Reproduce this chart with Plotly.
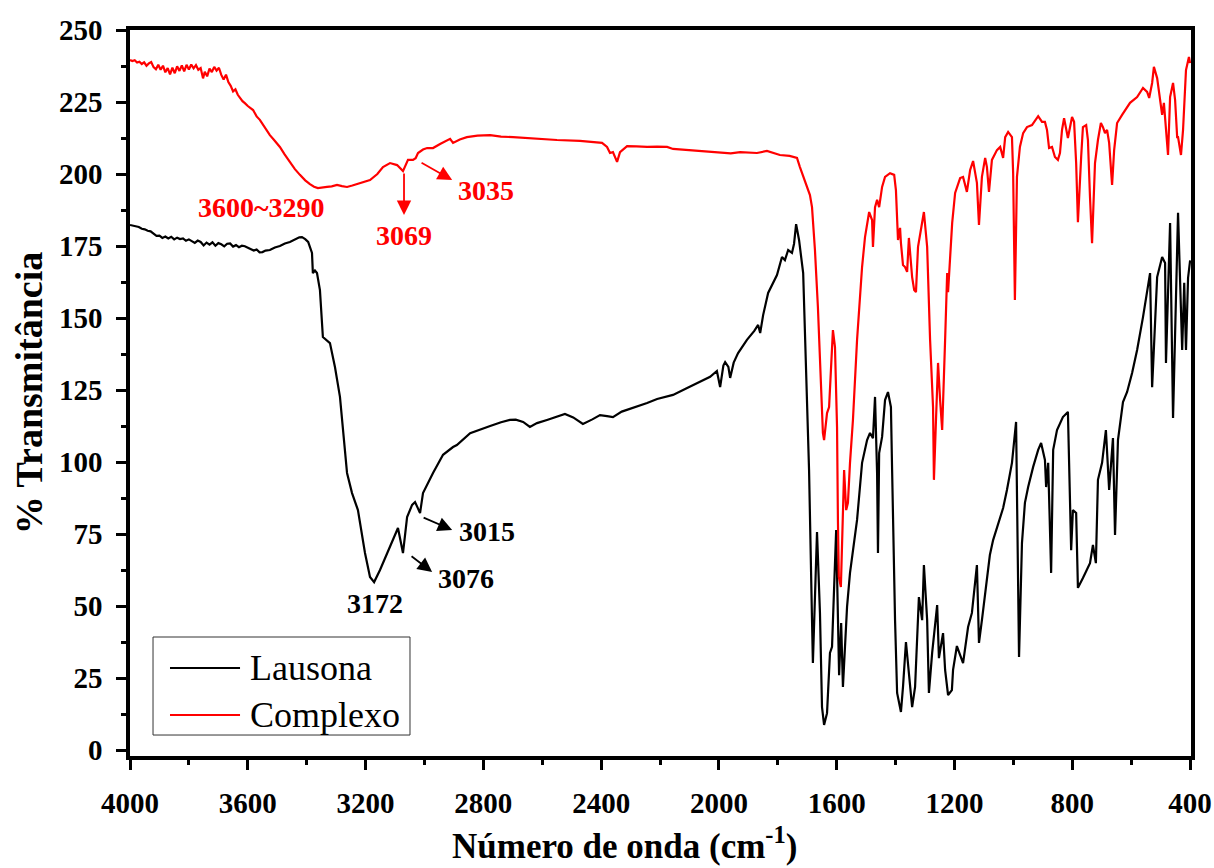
import plotly.graph_objects as go

# ---------------- data ----------------
lausona_wn = [4000, 3990, 3980, 3970, 3960, 3950, 3940, 3930, 3920, 3910, 3900, 3890, 3880, 3870, 3860, 3850,
              3840, 3830, 3820, 3810, 3800, 3790, 3780, 3770, 3760, 3750, 3740, 3730, 3720, 3710, 3700, 3690,
              3680, 3670, 3660, 3650, 3640, 3630, 3620, 3610, 3600, 3590, 3580, 3570, 3560, 3550, 3540, 3525,
              3508, 3491, 3474, 3457, 3440,
              3425, 3416, 3405, 3395, 3382, 3379, 3372, 3365, 3355, 3345, 3338, 3331, 3321, 3304, 3287, 3263,
              3246, 3226, 3202, 3185, 3171, 3151, 3117, 3090, 3073, 3059, 3042, 3032, 3015, 3005, 2971, 2937,
              2903, 2890, 2845, 2800, 2777, 2740, 2710, 2690, 2676, 2665, 2642, 2618, 2584, 2550, 2523, 2495,
              2462, 2430, 2404, 2380, 2360, 2330, 2292, 2244, 2210, 2156, 2108, 2064, 2030, 2007, 1996, 1985,
              1979, 1968, 1962, 1950, 1935, 1905, 1880, 1867, 1860, 1850, 1833, 1803, 1786, 1776, 1765, 1752,
              1745, 1738, 1728, 1714, 1701, 1694, 1684, 1681, 1667, 1657, 1650, 1643, 1633, 1623, 1616, 1609,
              1602, 1592, 1585, 1579, 1565, 1555, 1531, 1514, 1497, 1487, 1477, 1470, 1463, 1460, 1456, 1446,
              1436, 1426, 1416, 1412, 1409, 1402, 1395, 1382, 1375, 1365, 1355, 1344, 1334, 1321, 1310, 1304,
              1293, 1287, 1276, 1259, 1253, 1239, 1232, 1222, 1209, 1205, 1192, 1171, 1154, 1141, 1124, 1117,
              1107, 1090, 1080, 1069, 1045, 1035, 1022, 1005, 991, 984, 981, 971, 961, 950, 933, 916,
              906, 893, 889, 882, 872, 865, 852, 832, 815, 804, 798, 787, 781, 764, 740, 730,
              720, 713, 699, 686, 675, 662, 655, 645, 628, 614, 597, 580, 560, 536, 529, 512,
              495, 485, 482, 468, 458, 441, 427, 420, 414, 407, 400]
lausona_t = [182.3, 182.0, 181.7, 181.6, 181.0, 180.8, 180.3, 180.1, 179.3, 178.5, 178.6, 177.8, 178.3, 177.6, 178.2, 177.3,
             177.9, 177.4, 177.6, 176.8, 177.3, 176.6, 176.1, 176.9, 176.4, 175.2, 176.2, 175.5, 176.3, 175.1, 176.0, 175.6,
             174.9, 175.8, 175.9, 174.8, 175.3, 174.6, 175.1, 174.9, 174.4, 174.1, 173.4, 173.8, 172.8, 172.9, 173.4, 173.6,
             174.5, 175.0, 175.9, 176.4, 177.2,
             178.0, 178.1, 177.4, 176.4, 172.6, 165.6, 166.5, 165.6, 159.7, 143.4, 142.8, 142.4, 141.3, 133.0, 122.6, 96.2,
             89.2, 83.3, 68.4, 60.1, 58.3, 62.5, 70.5, 77.1, 68.4, 80.9, 85.1, 86.1, 82.3, 89.2, 96.2, 102.5,
             105.2, 105.9, 110.0, 111.8, 112.5, 113.8, 114.6, 114.7, 114.4, 113.9, 112.2, 113.5, 114.6, 115.7, 116.7, 115.5,
             113.2, 114.8, 116.3, 115.9, 115.6, 117.5, 118.8, 120.5, 121.9, 123.3, 125.7, 127.8, 129.6, 131.6, 126.0, 133.5,
             134.7, 133.0, 129.2, 134.5, 137.8, 142.4, 145.5, 147.6, 144.8, 151.0, 158.7, 164.9, 171.2, 170.1, 173.6, 172.6,
             175.8, 182.6, 177.1, 165.6, 125.0, 97.2, 45.1, 30.2, 75.7, 47.6, 14.9, 8.7, 12.8, 33.7, 35.8, 56.6,
             76.4, 26.0, 44.1, 21.9, 49.7, 61.5, 79.9, 99.7, 107.6, 110.1, 108.3, 122.6, 96.2, 68.4, 103.1, 108.7,
             121.5, 124.3, 119.1, 97.2, 79.9, 45.1, 19.8, 13.2, 21.9, 37.5, 26.7, 14.9, 21.9, 53.1, 45.1, 64.2,
             45.1, 19.8, 33.7, 50.3, 31.9, 40.6, 27.8, 19.1, 20.8, 27.8, 36.1, 30.2, 42.7, 47.6, 64.2, 37.2,
             45.1, 59.0, 67.7, 72.9, 80.9, 84.0, 90.3, 99.7, 113.9, 64.9, 32.3, 71.9, 85.8, 91.3, 98.3, 104.2,
             106.6, 100.7, 91.3, 99.7, 61.5, 104.2, 111.1, 115.6, 117.4, 69.4, 83.3, 82.3, 56.3, 59.7, 64.9, 71.2,
             64.9, 93.8, 99.7, 111.1, 90.3, 108.3, 74.7, 107.6, 120.8, 124.3, 130.9, 138.9, 150.3, 165.6, 126.0, 164.2,
             171.2, 169.1, 134.4, 183.0, 115.3, 186.5, 138.9, 162.2, 138.9, 163.9, 170.0]

complexo_wn = [4000, 3992, 3984, 3976, 3968, 3960, 3952, 3944, 3936, 3928, 3920, 3912, 3904, 3896, 3888, 3880,
               3872, 3864, 3856, 3848, 3840, 3832, 3824, 3816, 3808, 3800, 3792, 3784, 3776, 3768, 3760, 3752,
               3746, 3738, 3730, 3722, 3714, 3706, 3698, 3690, 3682, 3674, 3666, 3658, 3650, 3642, 3634, 3626,
               3618, 3610, 3600, 3582, 3570, 3559, 3540, 3525, 3510, 3491, 3475, 3457, 3440,
               3423, 3405, 3389, 3375, 3362, 3345, 3331, 3315, 3297, 3280, 3263, 3245, 3229, 3205, 3185, 3160,
               3141, 3117, 3093, 3073, 3056, 3039, 3030, 3022, 3005, 2991, 2971, 2947, 2923, 2913, 2903, 2880,
               2856, 2820, 2777, 2740, 2699, 2660, 2618, 2550, 2472, 2430, 2397, 2380, 2370, 2360, 2346, 2336,
               2312, 2280, 2244, 2210, 2176, 2156, 2110, 2074, 2030, 1996, 1960, 1928, 1900, 1871, 1837, 1815,
               1793, 1760, 1735, 1725, 1708, 1691, 1684, 1674, 1664, 1653, 1647, 1643, 1633, 1626, 1613, 1606,
               1599, 1596, 1593, 1586, 1582, 1575, 1568, 1562, 1555, 1545, 1531, 1514, 1504, 1490, 1480, 1477,
               1470, 1463, 1456, 1446, 1436, 1419, 1405, 1399, 1392, 1385, 1382, 1375, 1368, 1361, 1355, 1344,
               1337, 1331, 1324, 1310, 1304, 1293, 1283, 1273, 1270, 1263, 1256, 1249, 1242, 1232, 1225, 1222,
               1208, 1198, 1181, 1171, 1158, 1147, 1137, 1124, 1117, 1107, 1096, 1090, 1083, 1073, 1056, 1045,
               1035, 1028, 1018, 1005, 1001, 995, 988, 978, 967, 954, 937, 916, 903, 893, 886, 879,
               869, 859, 849, 842, 835, 828, 818, 815, 801, 794, 787, 781, 770, 764, 753, 747,
               740, 733, 723, 713, 703, 696, 689, 682, 675, 669, 665, 658, 648, 631, 604, 580,
               560, 546, 539, 529, 523, 512, 502, 495, 489, 482, 475, 468, 458, 451, 444, 441,
               431, 424, 414, 404, 400]
complexo_t = [239.6, 239.2, 239.5, 238.7, 239.0, 238.2, 238.8, 237.6, 238.4, 238.9, 237.1, 236.4, 237.9, 236.2, 237.6, 235.3,
              236.8, 234.6, 236.9, 235.0, 237.4, 235.8, 237.7, 235.6, 237.9, 236.3, 238.0, 236.7, 237.8, 236.2, 236.8, 233.2,
              235.5, 233.9, 236.6, 235.4, 237.2, 235.9, 236.9, 234.4, 232.8, 234.5, 231.9, 230.6, 228.7, 229.4, 227.5, 226.2,
              225.3, 224.6, 223.6, 222.2, 220.0, 218.8, 215.6, 213.5, 211.7, 209.4, 206.8, 204.2, 201.7,
              199.7, 197.8, 196.5, 195.6, 195.1, 195.2, 195.5, 195.7, 196.2, 195.8, 195.5, 196.0, 196.5, 197.2, 197.9, 200.0,
              202.4, 203.8, 203.1, 201.0, 204.9, 204.9, 205.5, 207.3, 208.5, 209.0, 209.0, 210.4, 211.5, 212.2, 210.8, 212.0,
              212.8, 213.3, 213.5, 213.0, 212.8, 212.5, 212.2, 211.8, 211.5, 211.2, 210.8, 209.4, 207.3, 207.6, 204.2, 207.6,
              209.7, 209.6, 209.4, 209.5, 209.4, 208.7, 208.3, 208.0, 207.6, 207.3, 207.2, 207.6, 207.4, 207.3, 208.0, 207.2,
              206.6, 206.3, 205.6, 202.4, 197.9, 192.7, 188.5, 173.6, 153.8, 121.5, 110.1, 107.6, 117.0, 119.1, 145.8, 139.9,
              112.2, 79.9, 60.1, 56.6, 74.0, 97.2, 83.3, 85.8, 99.7, 114.6, 142.4, 167.7, 178.1, 186.8, 184.0, 174.7,
              188.5, 191.0, 188.5, 195.5, 199.0, 200.3, 199.7, 194.4, 177.1, 181.3, 176.0, 168.4, 167.7, 166.0, 177.8, 164.2,
              159.7, 159.0, 174.7, 183.0, 186.8, 174.7, 142.4, 119.1, 93.8, 114.6, 134.4, 121.5, 111.1, 142.4, 165.6, 159.0,
              183.0, 193.4, 198.6, 199.0, 193.8, 201.4, 204.5, 196.9, 182.3, 199.0, 205.6, 202.4, 193.8, 204.9, 208.3, 209.4,
              205.6, 212.8, 214.6, 212.8, 200.3, 156.3, 199.0, 209.4, 214.2, 216.3, 217.0, 220.1, 218.1, 218.1, 215.3, 209.0,
              209.4, 205.9, 204.9, 207.3, 215.3, 219.4, 212.8, 212.5, 219.8, 218.1, 203.8, 183.3, 205.9, 216.3, 217.0, 211.8,
              192.0, 176.0, 203.8, 211.8, 217.7, 216.3, 214.2, 215.3, 210.8, 203.8, 196.2, 208.3, 217.7, 220.5, 224.7, 226.7,
              229.9, 228.5, 226.4, 231.6, 237.2, 233.3, 226.7, 220.5, 224.7, 215.3, 206.6, 226.7, 231.6, 225.7, 212.8, 212.8,
              206.6, 215.3, 236.1, 240.6, 238.5]

series_names = ["Lausona", "Complexo"]
series_colors = ["#000000", "#FF0000"]

# peak labels
label_text = ["3600~3290", "3069", "3035", "3172", "3076", "3015"]
label_wn = [3552, 3070, 2791, 3168, 2859, 2788]
label_t = [188.5, 178.5, 194.4, 51.0, 59.4, 75.7]
label_color = [1, 1, 1, 0, 0, 0]

# arrows: tail (wn, t) -> head (wn, t)
arrow_tail_wn = [3069.5, 3015, 3049, 3008]
arrow_tail_t = [200.7, 204.2, 67.7, 80.9]
arrow_head_wn = [3069.5, 2906, 2974, 2906]
arrow_head_t = [185.8, 197.9, 61.8, 76.4]
arrow_color = [1, 1, 0, 0]

x_ticks = [4000, 3600, 3200, 2800, 2400, 2000, 1600, 1200, 800, 400]
x_minor = [3800, 3400, 3000, 2600, 2200, 1800, 1400, 1000, 600]
y_ticks = [0, 25, 50, 75, 100, 125, 150, 175, 200, 225, 250]
y_minor = [12.5, 37.5, 62.5, 87.5, 112.5, 137.5, 162.5, 187.5, 212.5, 237.5]

FONT = "Liberation Serif"

fig = go.Figure()
fig.add_trace(go.Scatter(x=lausona_wn, y=lausona_t, mode="lines", name=series_names[0],
                         line=dict(color=series_colors[0], width=2.2), showlegend=False))
fig.add_trace(go.Scatter(x=complexo_wn, y=complexo_t, mode="lines", name=series_names[1],
                         line=dict(color=series_colors[1], width=2.2), showlegend=False))

annotations = []
for txt, xw, yt, ci in zip(label_text, label_wn, label_t, label_color):
    annotations.append(dict(x=xw, y=yt, xref="x", yref="y", text=txt, showarrow=False,
                            font=dict(family=FONT, size=28, color=series_colors[ci], weight="bold"),
                            xanchor="center", yanchor="middle"))
for tw, tt, hw, ht, ci in zip(arrow_tail_wn, arrow_tail_t, arrow_head_wn, arrow_head_t, arrow_color):
    annotations.append(dict(x=hw, y=ht, ax=tw, ay=tt, xref="x", yref="y", axref="x", ayref="y",
                            text="", showarrow=True, arrowhead=2, arrowsize=1.6, arrowwidth=1.8,
                            arrowcolor=series_colors[ci], standoff=0, startstandoff=0))

# custom legend (box, line samples, labels) in paper coordinates
leg_y = [0.1212, 0.0565]
shapes = [dict(type="rect", xref="paper", yref="paper", x0=0.0217, x1=0.2639, y0=0.0289, y1=0.1639,
               line=dict(color="#333333", width=1), fillcolor="rgba(255,255,255,1)", layer="above")]
for yy, col, name in zip(leg_y, series_colors, series_names):
    shapes.append(dict(type="line", xref="paper", yref="paper", x0=0.0377, x1=0.1037, y0=yy, y1=yy,
                       line=dict(color=col, width=2.2), layer="above"))
    annotations.append(dict(x=0.1112, y=yy, xref="paper", yref="paper", text=name, showarrow=False,
                            xanchor="left", yanchor="middle",
                            font=dict(family=FONT, size=36, color="#000000")))

# x-axis title (placed as annotation so it can sit left of centre like the reference)
annotations.append(dict(x=0.4656, y=-0.121, xref="paper", yref="paper",
                        text="Número de onda (cm<sup>-1</sup>)", showarrow=False,
                        xanchor="center", yanchor="middle",
                        font=dict(family=FONT, size=35, color="black", weight="bold")))

axis_common = dict(showgrid=False, zeroline=False, showline=True, linecolor="black", linewidth=3.5,
                   mirror=True, ticks="outside", ticklen=10, tickwidth=3, tickcolor="black",
                   ticklabelstandoff=8,
                   tickfont=dict(family=FONT, size=29, color="black", weight="bold"), automargin=False)

fig.update_layout(
    width=1214, height=868,
    margin=dict(l=130, r=23, t=30, b=112),
    paper_bgcolor="white", plot_bgcolor="white",
    xaxis=dict(range=[4000, 397], tickvals=x_ticks, ticktext=[str(v) for v in x_ticks],
               minor=dict(tickvals=x_minor, ticks="outside", ticklen=5, tickwidth=3, tickcolor="black"),
               **axis_common),
    yaxis=dict(range=[-2.08, 250], tickvals=y_ticks, ticktext=[str(v) for v in y_ticks],
               minor=dict(tickvals=y_minor, ticks="outside", ticklen=5, tickwidth=3, tickcolor="black"),
               title=dict(text="% Transmitância", standoff=6,
                          font=dict(family=FONT, size=38, color="black", weight="bold")),
               **axis_common),
    annotations=annotations,
    shapes=shapes,
)

fig.write_html("out.html")
